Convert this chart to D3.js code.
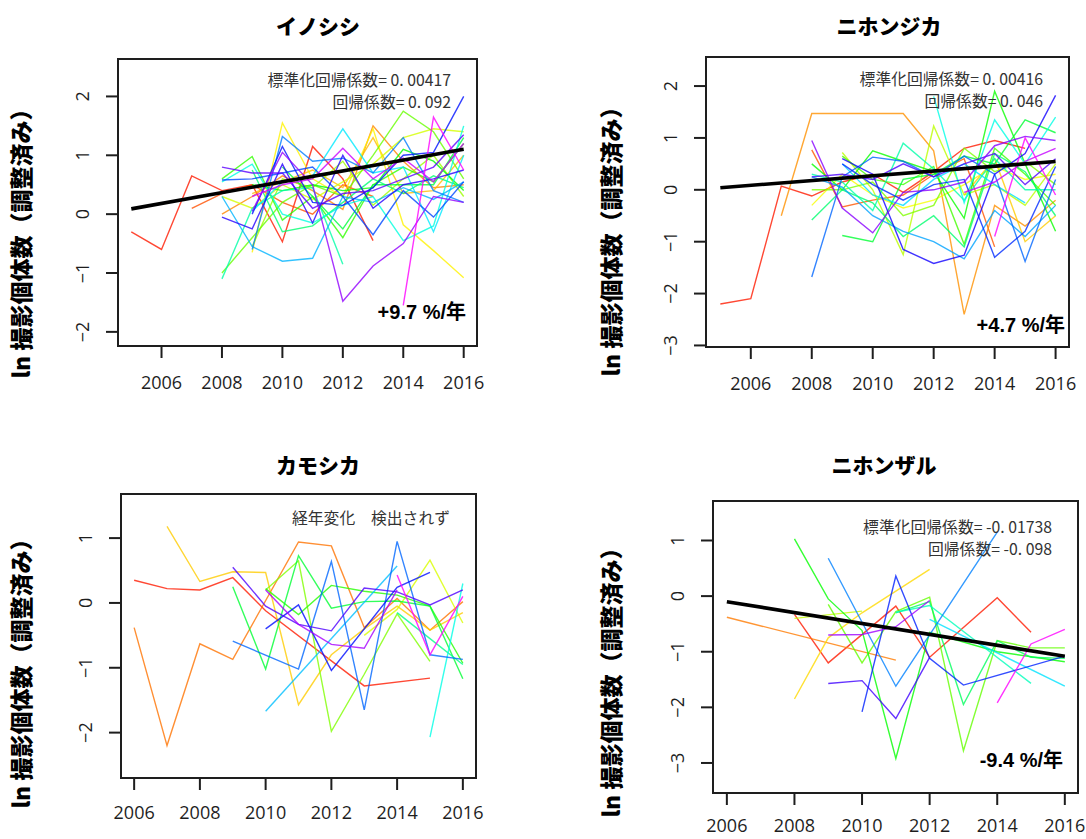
<!DOCTYPE html>
<html>
<head>
<meta charset="utf-8">
<script src="https://cdn.jsdelivr.net/npm/d3@7"></script>
<style>
  body { margin: 0; background: #fff; }
  svg { display: block; }
</style>
</head>
<body>
<svg id="chart" width="1086" height="839"></svg>
<script>
// ---- data: adjusted ln(camera-trap counts) per site, by year ----
const titles = ["イノシシ", "ニホンジカ", "カモシカ", "ニホンザル"];
const yAxisTitle = "ln 撮影個体数（調整済み）";
const xTicks = [2006, 2008, 2010, 2012, 2014, 2016];
const yTicks = [[-2, -1, 0, 1, 2], [-3, -2, -1, 0, 1, 2], [-2, -1, 0, 1], [-3, -2, -1, 0, 1]];

// wild boar sites
const inoshishi = [
  [[2005,-0.3],[2006,-0.6],[2007,0.65],[2008,0.4],[2009,0.5],[2010,-0.47],[2011,1.15],[2012,0.6],[2013,-0.45]],
  [[2007,0.1],[2008,0.35],[2009,0.5],[2010,0.2],[2011,0.0],[2012,0.5],[2013,0.3]],
  [[2008,0.0],[2009,0.3],[2010,0.65],[2011,0.4],[2012,0.08],[2013,1.5],[2014,0.9],[2015,0.45],[2016,0.5]],
  [[2009,0.35],[2010,0.55],[2011,0.75],[2012,0.45],[2013,1.3],[2014,0.35],[2015,0.4],[2016,1.0]],
  [[2009,-0.65],[2010,1.55],[2011,0.6],[2012,0.3],[2013,1.45],[2014,-0.18],[2015,-0.62],[2016,-1.08]],
  [[2008,0.3],[2009,0.1],[2010,0.5],[2011,0.25],[2012,0.55],[2013,0.85],[2014,1.3],[2015,1.45],[2016,1.4]],
  [[2009,-0.55],[2010,0.6],[2011,0.45],[2012,0.9],[2013,0.15],[2014,0.6],[2015,1.0],[2016,0.3]],
  [[2008,-1.0],[2009,-0.4],[2010,0.2],[2011,0.5],[2012,0.3],[2013,1.0],[2014,1.75],[2015,1.4],[2016,0.6]],
  [[2008,0.6],[2009,0.98],[2010,-0.1],[2011,0.3],[2012,-0.4],[2013,0.5],[2014,0.8],[2015,0.55],[2016,1.2]],
  [[2009,0.5],[2010,0.4],[2011,0.5],[2012,0.4],[2013,0.45],[2014,1.1],[2015,0.9],[2016,0.4]],
  [[2010,0.8],[2011,0.3],[2012,-0.25],[2013,0.5],[2014,0.5],[2015,0.5],[2016,1.3]],
  [[2009,0.75],[2010,-0.3],[2011,-0.2],[2012,0.2],[2013,0.6],[2014,0.35],[2015,0.65],[2016,0.45]],
  [[2008,-1.1],[2009,0.1],[2010,0.4],[2011,0.45],[2012,-0.85]],
  [[2008,0.55],[2009,0.85],[2010,0.0],[2011,-0.15],[2012,0.15],[2013,0.3],[2014,-0.45],[2015,-0.2],[2016,1.5]],
  [[2009,0.05],[2010,0.55],[2011,0.65],[2012,1.45],[2013,0.7],[2014,0.8],[2015,-0.3],[2016,1.0]],
  [[2008,0.3],[2009,-0.55],[2010,-0.8],[2011,-0.75],[2012,0.3],[2013,0.2],[2014,0.45],[2015,0.25],[2016,0.55]],
  [[2009,-0.6],[2010,1.32],[2011,0.9],[2012,0.95],[2013,0.7],[2014,1.3],[2015,0.4],[2016,0.2]],
  [[2008,0.58],[2009,0.6],[2010,0.7],[2011,0.8],[2012,0.3],[2013,-0.35],[2014,0.4],[2015,-0.05],[2016,0.55]],
  [[2009,0.0],[2010,1.15],[2011,0.2],[2012,0.15],[2013,0.45],[2014,1.0],[2015,1.05],[2016,2.0]],
  [[2008,-0.05],[2009,-0.25],[2010,0.85],[2011,-0.15],[2012,1.0],[2013,0.1],[2014,0.5],[2015,0.6],[2016,0.75]],
  [[2008,0.8],[2009,0.7],[2010,0.7],[2011,0.1],[2012,0.35],[2013,0.4],[2014,0.6],[2015,0.8],[2016,1.35]],
  [[2009,0.05],[2010,1.05],[2011,0.5],[2012,-1.48],[2013,-0.88],[2014,-0.5],[2015,0.3],[2016,0.2]],
  [[2009,0.3],[2010,0.5],[2011,0.6],[2012,1.12],[2013,0.6],[2014,0.95],[2015,0.55],[2016,1.2]],
  [[2014,-1.55],[2015,1.65],[2016,0.75]]
];

// sika deer sites
const nihonjika = [
  [[2005,-2.2],[2006,-2.1],[2007,0.07],[2008,-0.12],[2009,0.15],[2010,0.3],[2011,-0.05],[2012,0.35],[2013,0.8],[2014,0.95],[2015,0.8]],
  [[2008,0.77],[2009,-0.33],[2010,-0.2],[2011,-0.1],[2012,0.3],[2013,0.6],[2014,-1.1]],
  [[2007,-0.5],[2008,1.47],[2011,1.47],[2012,0.75],[2013,-2.4],[2014,-0.3],[2015,-0.7],[2016,-0.2]],
  [[2013,-0.1],[2014,0.6],[2015,-1.0],[2016,-0.5]],
  [[2008,-0.3],[2009,0.3],[2010,-0.1],[2011,-0.35],[2012,-0.2],[2013,0.1],[2014,0.45],[2015,0.2],[2016,0.3]],
  [[2009,0.72],[2010,0.0],[2011,-1.25],[2012,1.23],[2013,-0.1],[2014,0.1],[2015,-0.3],[2016,0.5]],
  [[2008,0.0],[2009,0.0],[2010,0.15],[2011,-0.5],[2012,-0.3],[2013,0.8],[2014,0.35],[2015,0.55],[2016,0.1]],
  [[2009,0.65],[2010,0.2],[2011,0.1],[2012,0.45],[2013,-1.05],[2014,0.8],[2015,0.3],[2016,-0.3]],
  [[2008,0.5],[2009,0.0],[2010,0.75],[2011,0.55],[2012,0.35],[2013,-0.55],[2014,1.9],[2015,0.5],[2016,-0.8]],
  [[2009,-0.88],[2010,-1.0],[2011,0.2],[2012,0.3],[2013,0.65],[2014,0.5],[2015,1.35],[2016,1.1]],
  [[2008,-0.58],[2009,0.0],[2010,-0.25],[2011,-0.9],[2012,-0.5],[2013,-1.1],[2014,0.7],[2015,0.35],[2016,-0.5]],
  [[2008,0.3],[2009,0.15],[2010,-0.4],[2011,0.9],[2012,0.4],[2013,-0.2],[2014,0.6],[2015,0.0],[2016,0.0]],
  [[2012,1.8],[2013,-0.25],[2014,1.35],[2015,0.5],[2016,1.4]],
  [[2009,0.5],[2010,-0.1],[2011,-0.3],[2012,0.2],[2013,0.5],[2014,0.1],[2015,-0.25]],
  [[2008,0.25],[2009,0.05],[2010,-0.5],[2011,-0.8],[2012,-1.0],[2013,-1.33],[2014,-0.4],[2015,-0.9],[2016,-0.3]],
  [[2008,-1.68],[2009,0.25],[2010,0.63],[2011,0.55],[2012,0.25],[2013,0.65],[2014,0.3],[2015,-1.38],[2016,0.2]],
  [[2009,0.5],[2010,0.1],[2011,-0.2],[2012,0.1],[2013,0.2],[2014,-1.3],[2015,-0.8],[2016,0.45]],
  [[2009,0.6],[2010,0.3],[2011,-1.15],[2012,-1.42],[2013,-1.26],[2014,0.3],[2015,0.7],[2016,1.82]],
  [[2008,0.25],[2009,0.3],[2010,0.2],[2011,0.5],[2012,0.25],[2013,0.5],[2014,0.7],[2015,0.1],[2016,0.6]],
  [[2008,0.95],[2009,-0.35],[2010,-0.83],[2011,-0.05],[2012,0.0],[2013,0.15],[2014,0.85],[2015,1.03],[2016,0.95]],
  [[2013,-0.05],[2014,0.15],[2015,0.55],[2016,0.8]],
  [[2014,-0.9],[2015,1.0],[2016,-0.1]]
];

// serow sites
const kamoshika = [
  [[2006,0.35],[2007,0.22],[2008,0.2],[2009,0.39],[2010,-0.12],[2013,-1.28],[2015,-1.16]],
  [[2006,-0.38],[2007,-2.2],[2008,-0.63],[2009,-0.87],[2011,0.94],[2012,0.88],[2013,-0.38],[2014,0.07],[2015,-0.42],[2016,0.02]],
  [[2007,1.18],[2008,0.33],[2009,0.48],[2010,0.47],[2011,-1.57],[2012,-0.8],[2013,-0.4],[2014,-0.05],[2015,-0.42],[2016,-0.15]],
  [[2013,-0.5],[2014,-0.1],[2015,0.66],[2016,-0.31]],
  [[2010,0.2],[2011,0.65],[2012,-1.98],[2013,-1.1],[2014,-0.17],[2015,-0.9]],
  [[2010,0.22],[2011,-0.18],[2012,0.27],[2013,0.18],[2014,0.12],[2015,-0.05],[2016,-0.93]],
  [[2009,0.25],[2010,-1.02],[2011,0.73],[2012,-0.08],[2013,0.02],[2014,0.03],[2015,-0.05],[2016,-1.17]],
  [[2014,-0.15],[2015,-0.55],[2016,-0.95]],
  [[2015,-2.07],[2016,0.3]],
  [[2010,-1.67],[2014,0.57]],
  [[2009,-0.59],[2011,-1.02],[2012,0.64],[2013,-1.65],[2014,0.95],[2015,-0.8],[2016,-0.87]],
  [[2010,-0.4],[2011,-0.03],[2012,-1.04],[2014,0.24],[2015,0.47]],
  [[2009,0.55],[2010,-0.05],[2011,-0.33],[2012,-0.43],[2013,0.23],[2014,0.17],[2015,-0.03],[2016,0.2]],
  [[2010,0.2],[2011,-0.33],[2012,-0.64],[2013,-0.7],[2014,0.2]],
  [[2014,0.43],[2015,-0.8],[2016,0.1]]
];

// macaque sites
const nihonzaru = [
  [[2008,-0.33],[2009,-1.2],[2011,-0.18],[2012,-1.1],[2014,-0.03],[2015,-0.65]],
  [[2006,-0.38],[2011,-1.15]],
  [[2008,-1.85],[2009,-0.75],[2010,-0.3],[2012,0.48]],
  [[2008,-0.4],[2010,-0.27]],
  [[2009,-0.15],[2010,-1.2],[2011,-0.28],[2012,-0.02],[2013,-2.78],[2014,-0.8],[2015,-0.93],[2016,-0.93]],
  [[2008,1.03],[2009,-0.05],[2010,-0.62],[2011,-2.92],[2012,-0.65],[2014,-1.0],[2016,-1.18]],
  [[2011,-0.3],[2012,-0.1],[2013,-1.95],[2014,-0.8],[2015,-1.1],[2016,-1.12]],
  [[2011,-0.29],[2012,-0.17],[2015,-1.57]],
  [[2012,-0.42],[2016,-1.62]],
  [[2009,0.68],[2011,-1.62],[2014,1.15]],
  [[2010,-2.08],[2011,0.36],[2012,-1.12],[2013,-1.6],[2016,-1.08]],
  [[2009,-1.57],[2010,-1.52],[2011,-2.2],[2012,-1.1]],
  [[2009,-0.7],[2010,-0.69],[2011,-0.55],[2012,-0.08]],
  [[2014,-1.92],[2015,-0.86],[2016,-0.6]]
];

const seriesByPanel = [inoshishi, nihonjika, kamoshika, nihonzaru];

// fitted trend: standardized coefficient, coefficient (slope per year), fitted start point
const stdCoef = ["0.00417", "0.00416", null, "-0.01738"];
const regCoef = [0.092, 0.046, null, -0.098];
const trendStart = [[2005, 0.09], [2005, 0.04], null, [2006, -0.10]];
const trendEndYear = [2016, 2016, null, 2016];
const rateLabels = ["+9.7 %/年", "+4.7 %/年", null, "-9.4 %/年"];
const noTrendNote = "経年変化　検出されず";

// ---- layout ----
const layout = [
  { box: [118, 59, 477, 346], xDom: [2004.56, 2016.44], yDom: [-2.24, 2.636], titleX: 318, titleY: 27, labX: 22, labY: 238, noteY: 80, rateR: 466, rateY: 312, tickDY: 37 },
  { box: [706, 57, 1069, 347], xDom: [2004.53, 2016.44], yDom: [-3.03, 2.56], titleX: 889, titleY: 27, labX: 612, labY: 236, noteY: 79, rateR: 1065, rateY: 325, tickDY: 37 },
  { box: [121, 494, 476, 778], xDom: [2005.6, 2016.4], yDom: [-2.70, 1.68], titleX: 318, titleY: 466, labX: 22, labY: 668, noteY: 518, rateR: null, rateY: null, tickDY: 35 },
  { box: [713, 501, 1078, 793], xDom: [2005.59, 2016.39], yDom: [-3.54, 1.71], titleX: 884, titleY: 466, labX: 612, labY: 677, noteY: 527, rateR: 1063, rateY: 760, tickDY: 33 }
];

const ink = "#1e1e1e";
const jpFont = "'Noto Sans CJK JP', 'Noto Sans', sans-serif";
const numFont = "'Open Sans', 'Noto Sans', sans-serif";
const boldFont = "'Liberation Sans', 'Noto Sans CJK JP', sans-serif";
const minus = v => (v < 0 ? "−" + Math.abs(v) : String(v));
// the note font spaces the decimal point widely
const spaced = s => String(s).replace(".", ". ");

const svg = d3.select("#chart");

layout.forEach((L, p) => {
  const [x0, y0, x1, y1] = L.box;
  const x = d3.scaleLinear().domain(L.xDom).range([x0, x1]);
  const y = d3.scaleLinear().domain(L.yDom).range([y1, y0]);
  const g = svg.append("g");

  // site series in rainbow order
  const series = seriesByPanel[p];
  const n = series.length;
  const line = d3.line().x(d => x(d[0])).y(d => y(d[1]));
  g.append("g").selectAll("path").data(series).join("path")
    .attr("d", line)
    .attr("fill", "none")
    .attr("stroke", (d, i) => d3.hsl(6 + 294 * i / (n - 1), 1, 0.5).formatHex())
    .attr("stroke-width", 1.4)
    .attr("stroke-opacity", 0.8)
    .attr("stroke-linejoin", "miter");

  // regression line
  if (trendStart[p]) {
    const [sx, sy] = trendStart[p];
    const ex = trendEndYear[p];
    const pts = [[sx, sy], [ex, sy + regCoef[p] * (ex - sx)]];
    g.append("path").attr("d", line(pts))
      .attr("fill", "none").attr("stroke", "#000").attr("stroke-width", 3.6);
  }

  // plot frame
  g.append("rect").attr("x", x0).attr("y", y0).attr("width", x1 - x0).attr("height", y1 - y0)
    .attr("fill", "none").attr("stroke", ink).attr("stroke-width", 2);

  // x axis
  const xt = g.append("g");
  xt.selectAll("line").data(xTicks).join("line")
    .attr("x1", d => x(d)).attr("x2", d => x(d)).attr("y1", y1).attr("y2", y1 + 12)
    .attr("stroke", ink).attr("stroke-width", 2);
  xt.selectAll("text").data(xTicks).join("text")
    .attr("x", d => x(d)).attr("y", y1 + L.tickDY).attr("dy", "0.35em")
    .attr("text-anchor", "middle").attr("font-family", numFont).attr("font-size", 18)
    .attr("fill", ink).text(d => d);

  // y axis (labels parallel to the axis)
  const yt = g.append("g");
  yt.selectAll("line").data(yTicks[p]).join("line")
    .attr("x1", x0 - 12).attr("x2", x0).attr("y1", d => y(d)).attr("y2", d => y(d))
    .attr("stroke", ink).attr("stroke-width", 2);
  yt.selectAll("text").data(yTicks[p]).join("text")
    .attr("transform", d => `translate(${x0 - 35},${y(d)}) rotate(-90)`)
    .attr("dy", "0.35em").attr("text-anchor", "middle")
    .attr("font-family", numFont).attr("font-size", 18).attr("fill", ink)
    .text(d => minus(d));

  // title
  svg.append("text").attr("x", L.titleX).attr("y", L.titleY).attr("dy", "0.35em")
    .attr("text-anchor", "middle").attr("font-family", jpFont).attr("font-weight", 900)
    .attr("font-size", 21).attr("fill", "#000").text(titles[p]);

  // y axis title
  svg.append("text").attr("transform", `translate(${L.labX},${L.labY}) rotate(-90)`)
    .attr("dy", "0.35em").attr("text-anchor", "middle")
    .attr("font-family", jpFont).attr("font-weight", 900).attr("font-size", 23)
    .attr("fill", "#000").text(yAxisTitle);

  // coefficient notes
  const noteX = x1 - 26;
  const noteSize = 15.8;
  if (stdCoef[p] !== null) {
    g.append("text").attr("x", noteX).attr("y", L.noteY).attr("dy", "0.35em")
      .attr("text-anchor", "end").attr("font-family", jpFont).attr("font-size", noteSize)
      .attr("fill", "#333").text(`標準化回帰係数= ${spaced(stdCoef[p])}`);
    g.append("text").attr("x", noteX).attr("y", L.noteY + 22).attr("dy", "0.35em")
      .attr("text-anchor", "end").attr("font-family", jpFont).attr("font-size", noteSize)
      .attr("fill", "#333").text(`回帰係数= ${spaced(regCoef[p])}`);
    g.append("text").attr("x", L.rateR).attr("y", L.rateY).attr("dy", "0.35em")
      .attr("text-anchor", "end").attr("font-family", boldFont).attr("font-weight", 700)
      .attr("font-size", 20).attr("fill", "#000").text(rateLabels[p]);
  } else {
    g.append("text").attr("x", noteX).attr("y", L.noteY).attr("dy", "0.35em")
      .attr("text-anchor", "end").attr("font-family", jpFont).attr("font-size", noteSize)
      .attr("fill", "#333").text(noTrendNote);
  }
});
</script>
</body>
</html>
